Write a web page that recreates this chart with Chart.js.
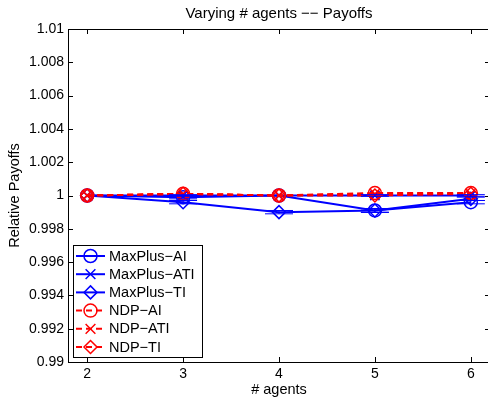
<!DOCTYPE html>
<html>
<head>
<meta charset="utf-8">
<script src="https://cdn.jsdelivr.net/npm/chart.js@4.4.1/dist/chart.umd.min.js"></script>
<style>
    html, body { margin: 0; padding: 0; background: #fff; overflow: hidden; }
    #wrap { width: 488px; height: 402px; overflow: hidden; }
</style>
</head>
<body>
<div id="wrap"><canvas id="chartPayoffs" width="498" height="402"></canvas></div>
<script>
// Données
const agents = [2, 3, 4, 5, 6];
const yTicks = [0.99, 0.992, 0.994, 0.996, 0.998, 1, 1.002, 1.004, 1.006, 1.008, 1.01];

const maxPlusAI  = [1, 0.9999, 1, 0.9991, 0.9996];
const maxPlusATI = [1, 1, 1, 1, 1];
const maxPlusTI  = [1, 0.9996, 0.999, 0.9991, 0.9998];
const ndpAI      = [1, 1.0001, 1, 1.00015, 1.00015];
const ndpATI     = [1, 1.0001, 1, 1.0001, 1.0001];
const ndpTI      = [1, 1.0001, 1, 1, 1.0001];

const maxPlusAIErr  = [0, 0.0001, 0, 0.00012, 0.0001];
const maxPlusATIErr = [0, 0.00005, 0, 0.00005, 0.00005];
const maxPlusTIErr  = [0, 0.0001, 0.0001, 0.0001, 0.0001];

const BLUE = '#0000ff';
const RED = '#ff0000';
const FONT = "'Liberation Sans', Arial, sans-serif";

function pts(values) {
    return agents.map((a, i) => ({ x: a, y: values[i] }));
}

function serie(label, values, color, style, dashed, errs) {
    return {
        label: label,
        data: pts(values),
        errs: errs || null,
        borderColor: color,
        backgroundColor: 'transparent',
        borderWidth: 2,
        borderDash: dashed ? [6, 4] : [],
        pointStyle: style,
        pointRadius: 6.5,
        pointBorderWidth: 1.5,
        pointBorderColor: color,
        pointBackgroundColor: 'transparent',
        order: dashed ? 1 : 2,
        tension: 0
    };
}

// Dessin d'un marqueur (légende)
function drawMarker(ctx, style, x, y, r) {
    ctx.beginPath();
    if (style === 'circle') {
        ctx.arc(x, y, r, 0, Math.PI * 2);
    } else if (style === 'crossRot') {
        const d = r * 0.75;
        ctx.moveTo(x - d, y - d); ctx.lineTo(x + d, y + d);
        ctx.moveTo(x - d, y + d); ctx.lineTo(x + d, y - d);
    } else if (style === 'rectRot') {
        ctx.moveTo(x, y - r); ctx.lineTo(x + r, y); ctx.lineTo(x, y + r); ctx.lineTo(x - r, y); ctx.closePath();
    }
    ctx.stroke();
}

// Barres d'erreur (style MATLAB)
const errorBars = {
    id: 'errorBars',
    afterDatasetsDraw(chart) {
        const ctx = chart.ctx;
        const xs = chart.scales.x, ys = chart.scales.y;
        chart.data.datasets.forEach(ds => {
            if (!ds.errs) return;
            ctx.save();
            ctx.strokeStyle = ds.borderColor;
            ctx.lineWidth = 1;
            ds.data.forEach((p, i) => {
                const e = ds.errs[i];
                if (!e) return;
                const px = xs.getPixelForValue(p.x);
                const yt = ys.getPixelForValue(p.y + e);
                const yb = ys.getPixelForValue(p.y - e);
                ctx.beginPath();
                ctx.moveTo(px, yt); ctx.lineTo(px, yb);
                ctx.moveTo(px - 14, yt); ctx.lineTo(px + 14, yt);
                ctx.moveTo(px - 14, yb); ctx.lineTo(px + 14, yb);
                ctx.stroke();
            });
            ctx.restore();
        });
    }
};

// Cadre, graduations internes, titres et légende
const decor = {
    id: 'decor',
    afterDraw(chart) {
        const ctx = chart.ctx;
        const a = chart.chartArea;
        const xs = chart.scales.x, ys = chart.scales.y;
        ctx.save();
        ctx.strokeStyle = '#000';
        ctx.lineWidth = 1;
        ctx.strokeRect(a.left + 0.5, a.top + 0.5, a.right - a.left, a.bottom - a.top);
        ctx.beginPath();
        agents.forEach(v => {
            const px = Math.round(xs.getPixelForValue(v)) + 0.5;
            ctx.moveTo(px, a.bottom); ctx.lineTo(px, a.bottom - 5);
            ctx.moveTo(px, a.top); ctx.lineTo(px, a.top + 5);
        });
        yTicks.forEach(v => {
            const py = Math.round(ys.getPixelForValue(v)) + 0.5;
            ctx.moveTo(a.left, py); ctx.lineTo(a.left + 5, py);
            ctx.moveTo(a.right, py); ctx.lineTo(a.right - 5, py);
        });
        ctx.stroke();

        ctx.fillStyle = '#000';
        ctx.textAlign = 'center';
        ctx.textBaseline = 'middle';
        ctx.font = '15px ' + FONT;
        ctx.fillText('Varying # agents \u2212\u2212 Payoffs', (a.left + a.right) / 2, 14);
        ctx.font = '14.5px ' + FONT;
        ctx.fillText('# agents', (a.left + a.right) / 2, 390);
        ctx.save();
        ctx.translate(15, (a.top + a.bottom) / 2);
        ctx.rotate(-Math.PI / 2);
        ctx.fillText('Relative Payoffs', 0, 0);
        ctx.restore();

        // Légende
        const lx = 73, ly = 245, lw = 129, lh = 112;
        ctx.fillStyle = '#fff';
        ctx.fillRect(lx, ly, lw, lh);
        ctx.strokeStyle = '#000';
        ctx.lineWidth = 1;
        ctx.strokeRect(lx + 0.5, ly + 0.5, lw, lh);
        ctx.textAlign = 'left';
        ctx.font = '14.5px ' + FONT;
        chart.data.datasets.forEach((ds, i) => {
            const cy = 256 + i * 18.2;
            ctx.strokeStyle = ds.borderColor;
            ctx.lineWidth = 2;
            ctx.setLineDash(ds.borderDash);
            ctx.beginPath();
            ctx.moveTo(76, cy); ctx.lineTo(105, cy);
            ctx.stroke();
            ctx.setLineDash([]);
            ctx.lineWidth = 1.5;
            drawMarker(ctx, ds.pointStyle, 90.5, cy, 6.5);
            ctx.fillStyle = '#000';
            ctx.fillText(ds.label, 109, cy + 0.5);
        });
        ctx.restore();
    }
};

new Chart(document.getElementById('chartPayoffs').getContext('2d'), {
    type: 'line',
    data: {
        datasets: [
            serie('MaxPlus\u2212AI', maxPlusAI, BLUE, 'circle', false, maxPlusAIErr),
            serie('MaxPlus\u2212ATI', maxPlusATI, BLUE, 'crossRot', false, maxPlusATIErr),
            serie('MaxPlus\u2212TI', maxPlusTI, BLUE, 'rectRot', false, maxPlusTIErr),
            serie('NDP\u2212AI', ndpAI, RED, 'circle', true),
            serie('NDP\u2212ATI', ndpATI, RED, 'crossRot', true),
            serie('NDP\u2212TI', ndpTI, RED, 'rectRot', true)
        ]
    },
    options: {
        responsive: false,
        animation: false,
        devicePixelRatio: 1,
        clip: false,
        layout: { padding: { top: 29, right: 0, left: 0, bottom: 0 } },
        plugins: {
            legend: { display: false },
            title: { display: false },
            tooltip: { enabled: false }
        },
        scales: {
            x: {
                type: 'linear',
                min: 1.8,
                max: 6.2,
                afterBuildTicks: s => { s.ticks = agents.map(v => ({ value: v })); },
                afterFit: s => { s.height = 40; },
                grid: { display: false, drawTicks: false },
                border: { display: false },
                ticks: { color: '#000', font: { family: FONT, size: 14 }, padding: 4 }
            },
            y: {
                type: 'linear',
                min: 0.99,
                max: 1.01,
                afterBuildTicks: s => { s.ticks = yTicks.map(v => ({ value: v })); },
                afterFit: s => { s.width = 68; },
                grid: { display: false, drawTicks: false },
                border: { display: false },
                ticks: {
                    color: '#000',
                    font: { family: FONT, size: 14 },
                    padding: 4,
                    callback: v => String(parseFloat(v.toFixed(3)))
                }
            }
        }
    },
    plugins: [errorBars, decor]
});
</script>
</body>
</html>
